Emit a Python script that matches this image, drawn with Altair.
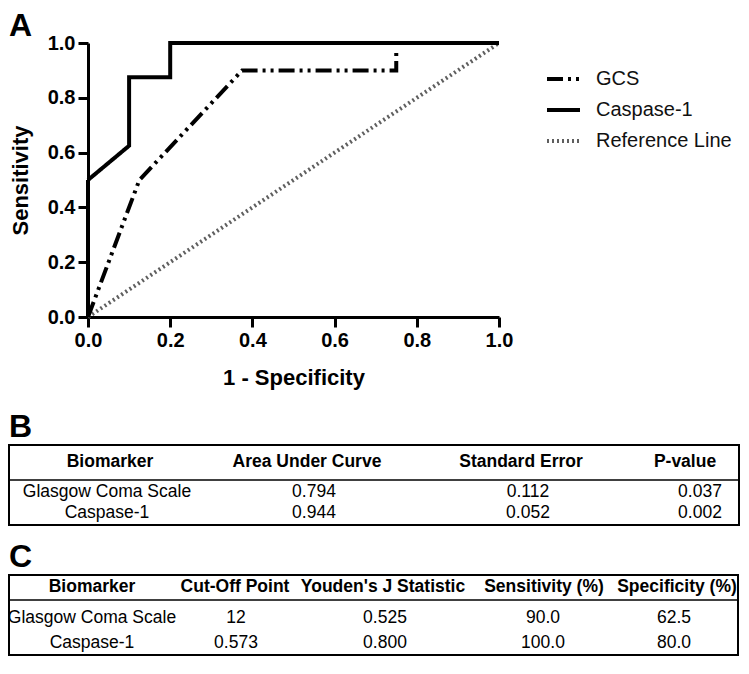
import altair as alt
import pandas as pd

# ---------------- data ----------------
gcs_x = [0.0, 0.125, 0.375, 0.75, 0.75]
gcs_y = [0.0, 0.5, 0.9, 0.9, 0.975]
casp_x = [0.0, 0.0, 0.1, 0.1, 0.2, 0.2, 1.0]
casp_y = [0.0, 0.5, 0.625, 0.875, 0.875, 1.0, 1.0]
ref_x = [0.0, 1.0]
ref_y = [0.0, 1.0]
series = ["GCS", "Caspase-1", "Reference Line"]
x_ticks = [0.0, 0.2, 0.4, 0.6, 0.8, 1.0]

panel_labels = ["A", "B", "C"]

tabB_header = ["Biomarker", "Area Under Curve", "Standard Error", "P-value"]
biomarkers = ["Glasgow Coma Scale", "Caspase-1"]
auc = ["0.794", "0.944"]
std_err = ["0.112", "0.052"]
p_value = ["0.037", "0.002"]

tabC_header = ["Biomarker", "Cut-Off Point", "Youden's J Statistic",
               "Sensitivity (%)", "Specificity (%)"]
cutoff = ["12", "0.573"]
youden = ["0.525", "0.800"]
sens_pct = ["90.0", "100.0"]
spec_pct = ["62.5", "80.0"]

FONT = "Liberation Sans, Arimo, Arial, sans-serif"

# ---------------- ROC panel ----------------
rows = []
for sname, xs, ys in [("Reference Line", ref_x, ref_y), ("GCS", gcs_x, gcs_y),
                      ("Caspase-1", casp_x, casp_y)]:
    for i, (a, b) in enumerate(zip(xs, ys)):
        rows.append({"series": sname, "fpr": a, "tpr": b, "i": i})
roc_df = pd.DataFrame(rows)

axis_common = dict(
    labelFont=FONT, titleFont=FONT, labelFontSize=20, labelFontWeight="bold",
    titleFontSize=22, titleFontWeight="bold", labelColor="black", titleColor="black",
    domainColor="black", tickColor="black", domainWidth=3, tickWidth=3, tickSize=10,
    grid=False, format=".1f", values=x_ticks, labelFlush=False,
)

roc = alt.Chart(roc_df).mark_line(strokeCap="butt", strokeJoin="miter").encode(
    x=alt.X("fpr:Q", scale=alt.Scale(domain=[0, 1], nice=False),
            axis=alt.Axis(title="1 - Specificity", labelPadding=3, titlePadding=17, **axis_common)),
    y=alt.Y("tpr:Q", scale=alt.Scale(domain=[0, 1], nice=False),
            axis=alt.Axis(title="Sensitivity", labelPadding=3, titlePadding=15, **axis_common)),
    color=alt.Color("series:N", scale=alt.Scale(domain=series, range=["black", "black", "#5f5f5f"]),
                    legend=alt.Legend(title=None, orient="none", legendX=457, legendY=23,
                                      labelFont=FONT, labelFontSize=20, labelColor="#111",
                                      symbolSize=1089, clipHeight=26, rowPadding=5,
                                      labelOffset=14, padding=0)),
    strokeDash=alt.StrokeDash("series:N", scale=alt.Scale(domain=series,
                              range=[[16, 5, 3, 5, 3, 5], [1, 0], [2, 3]]), legend=alt.Legend(title=None)),
    strokeWidth=alt.StrokeWidth("series:N", scale=alt.Scale(domain=series, range=[4, 4, 2]),
                                legend=alt.Legend(title=None)),
    detail="series:N",
    order="i:Q",
)

# ---------------- tables ----------------
def table_layers(header, columns, hx, vx, hy, vy, rect, sep):
    hdf = pd.DataFrame({"c": list(range(len(header))), "label": header})
    vrows = []
    for r in range(len(columns[0])):
        for c, col in enumerate(columns):
            vrows.append({"r": r, "c": c, "label": col[r]})
    vdf = pd.DataFrame(vrows)
    hxs = "[" + ",".join(str(v) for v in hx) + "]"
    vxs = "[" + ",".join(str(v) for v in vx) + "]"
    vys = "[" + ",".join(str(v) for v in vy) + "]"
    head = alt.Chart(hdf).transform_calculate(
        px=f"{hxs}[datum.c]", py=str(hy)
    ).mark_text(font=FONT, fontSize=17.5, fontWeight="bold", color="black",
                align="center", baseline="middle").encode(
        x=alt.X("px:Q", scale=None, axis=None), y=alt.Y("py:Q", scale=None, axis=None),
        text="label:N")
    body = alt.Chart(vdf).transform_calculate(
        px=f"{vxs}[datum.c]", py=f"{vys}[datum.r]"
    ).mark_text(font=FONT, fontSize=17.5, color="black",
                align="center", baseline="middle").encode(
        x=alt.X("px:Q", scale=None, axis=None), y=alt.Y("py:Q", scale=None, axis=None),
        text="label:N")
    one = pd.DataFrame({"k": [0]})
    box = alt.Chart(one).mark_rect(fill="transparent", stroke="black", strokeWidth=2).encode(
        x=alt.value(rect[0]), x2=alt.value(rect[1]), y=alt.value(rect[2]), y2=alt.value(rect[3]))
    line = alt.Chart(one).mark_rule(stroke="black", strokeWidth=1.5).encode(
        x=alt.value(rect[0]), x2=alt.value(rect[1]), y=alt.value(sep), y2=alt.value(sep))
    return [box, line, head, body]

tabB = table_layers(
    tabB_header, [biomarkers, auc, std_err, p_value],
    hx=[22, 219, 433, 597], vx=[19, 226, 440, 612],
    hy=419, vy=[449, 470], rect=(-79, 651, 402, 482), sep=437)

tabC = table_layers(
    tabC_header, [biomarkers, cutoff, youden, sens_pct, spec_pct],
    hx=[4, 147, 295, 456, 589], vx=[4, 148, 297, 455, 586],
    hy=544, vy=[575, 600], rect=(-79, 650, 532, 612), sep=557)

one = pd.DataFrame({"k": [0]})
label_pos = {"A": (-79, -7), "B": (-79, 394), "C": (-79, 524)}
labels = [
    alt.Chart(one).mark_text(font=FONT, fontSize=32, fontWeight="bold", color="black",
                             align="left", baseline="alphabetic").encode(
        x=alt.value(label_pos[t][0]), y=alt.value(label_pos[t][1]), text=alt.value(t))
    for t in panel_labels
]

chart = alt.layer(roc, *tabB, *tabC, *labels).resolve_scale(
    x="independent", y="independent"
).properties(
    width=411, height=274,
    autosize=alt.AutoSizeParams(type="none"),
    padding={"left": 80, "top": 35, "right": 242, "bottom": 341},
).configure_view(stroke=None)

chart.save("out.html", embed_options={"renderer": "svg", "actions": False})
